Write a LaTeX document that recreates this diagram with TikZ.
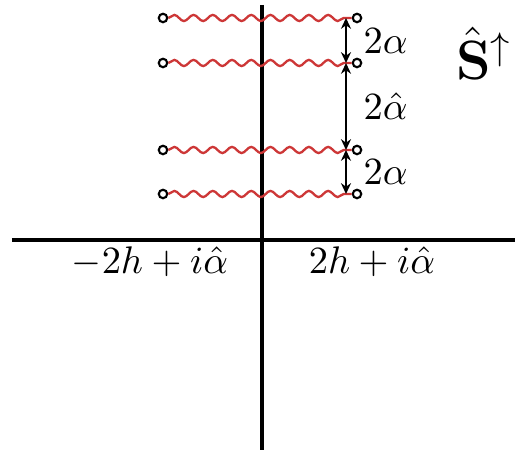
\documentclass[tikz,border=0pt]{standalone}
\usetikzlibrary{decorations.pathmorphing,arrows.meta}
\definecolor{wavered}{RGB}{205,55,55}
\begin{document}
\begin{tikzpicture}[x=0.26pt, y=0.26pt, every node/.style={font=\normalsize}]
  \useasboundingbox (-262,-217) rectangle (260,240);
  \tikzset{
    endpt/.style={circle, draw, line width=0.55pt, inner sep=0pt, minimum size=2.2pt},
    wave/.style={wavered, line width=0.6pt, decorate,
      decoration={snake, amplitude=0.8pt, segment length=5pt}},
    gap/.style={<->, >={Stealth[length=2.8pt, width=2.6pt]}, line width=0.6pt}
  }

  % axes
  \draw[thick] (-250,0) -- (253,0);
  \draw[thick] (0,235) -- (0,-210);

  % cuts with end points
  \foreach \n/\y in {1/222, 2/177, 3/90, 4/46} {
    \node[endpt] (l\n) at (-99,\y) {};
    \node[endpt] (r\n) at (95,\y) {};
    \draw[wave] (l\n) -- (r\n);
    \coordinate (g\n) at (84,\y);
  }

  % spacings
  \draw[gap] (g1) -- (g2);
  \draw[gap] (g2) -- (g3);
  \draw[gap] (g3) -- (g4);
  \node[right] (d1) at (88,199) {\(2\alpha\)};
  \node[right] (d2) at (88,134) {\(2\hat{\alpha}\)};
  \node[right] (d3) at (88,68) {\(2\alpha\)};

  % labels
  \node (S) at (222,187) {\Large\(\hat{\mathbf{S}}^{\uparrow}\)};
  \node (pl) at (-112,-22) {\(-2h+i\hat{\alpha}\)};
  \node (pr) at (110,-22) {\(2h+i\hat{\alpha}\)};
\end{tikzpicture}
\end{document}
